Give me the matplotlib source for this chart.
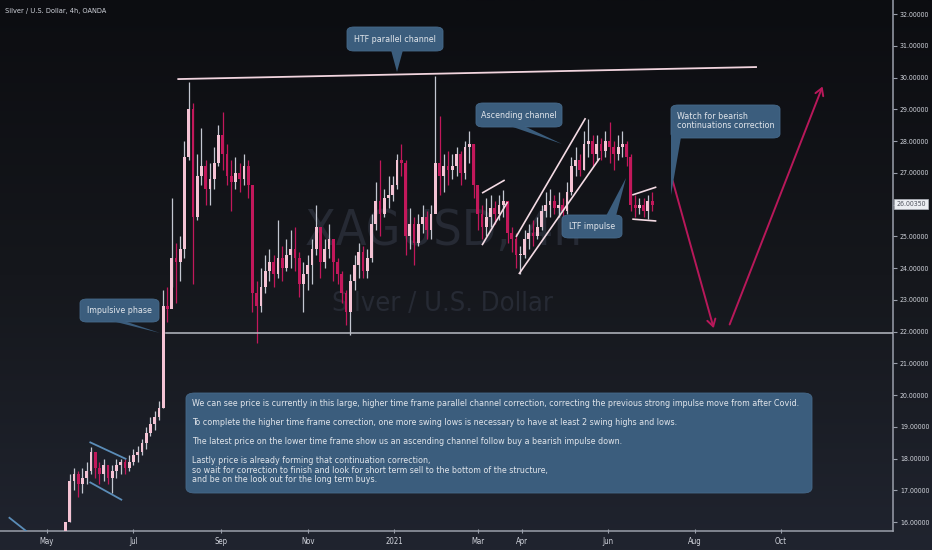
import matplotlib
matplotlib.use("Agg")
import matplotlib.pyplot as plt
import matplotlib.dates as mdates
import numpy as np
import pandas as pd
from matplotlib.colors import LinearSegmentedColormap
from matplotlib.patches import FancyBboxPatch, Polygon
from matplotlib.transforms import blended_transform_factory

plt.rcParams["font.family"] = ["DejaVu Sans"]
plt.rcParams["font.stretch"] = "condensed"

# XAGUSD candles, one every 3 calendar days
first_candle = "2020-05-14"
first_open = 15.4
closes = [
    16.0, 17.3, 17.5, 17.2, 17.4, 17.6, 18.2, 17.7, 17.5, 17.8,
    17.4, 17.6, 17.8, 17.9, 17.7, 17.9, 18.1, 18.2, 18.5, 18.8,
    19.1, 19.3, 19.6, 22.8, 22.7, 24.3, 24.2, 24.6, 27.5, 29.0,
    25.6, 26.9, 27.2, 26.5, 26.8, 27.3, 28.2, 27.6, 26.9, 26.7,
    27.0, 26.8, 27.2, 26.6, 23.2, 22.8, 23.4, 23.9, 24.2, 23.8,
    24.3, 24.0, 24.4, 24.6, 24.3, 23.5, 23.8, 24.1, 24.6, 25.3,
    24.2, 24.6, 24.9, 24.2, 23.8, 23.2, 22.6, 23.6, 24.1, 24.5,
    23.9, 24.3, 25.4, 26.1, 25.7, 26.2, 26.3, 26.6, 27.4, 27.3,
    25.0, 25.4, 24.8, 25.4, 25.6, 25.2, 25.7, 27.3, 26.9, 27.2,
    27.1, 27.2, 27.6, 27.0, 27.8, 27.9, 26.6, 25.7, 25.3, 25.6,
    25.9, 25.7, 26.0, 26.1, 25.1, 24.9, 24.4, 24.4, 24.9, 25.1,
    25.0, 25.3, 25.8, 26.0, 26.1, 25.9, 26.0, 25.8, 26.4, 27.2,
    27.4, 27.1, 27.9, 28.0, 27.6, 27.9, 27.7, 28.0, 27.8, 27.6,
    27.8, 27.9, 27.5, 26.0, 25.9, 26.0, 25.8, 26.1, 26.0,
]
highs = [
    16.0, 17.5, 17.7, 17.6, 17.7, 17.9, 18.35, 18.1, 17.9, 18.0,
    17.8, 17.8, 18.0, 18.0, 18.0, 18.1, 18.3, 18.4, 18.6, 19.0,
    19.3, 19.5, 19.8, 23.3, 23.4, 26.2, 24.8, 25.0, 28.0, 29.85,
    29.2, 27.6, 28.4, 27.4, 27.3, 27.8, 28.5, 28.9, 27.9, 27.4,
    27.5, 27.3, 27.6, 27.4, 26.6, 23.6, 24.0, 24.4, 24.6, 24.4,
    25.5, 24.7, 24.9, 25.2, 25.3, 24.5, 24.2, 24.4, 24.9, 26.0,
    25.3, 24.9, 25.4, 24.8, 24.3, 23.9, 23.3, 23.8, 24.4, 24.8,
    24.7, 24.6, 25.7, 26.7, 27.4, 26.5, 26.9, 26.9, 27.6, 27.9,
    27.4, 25.9, 25.6, 25.7, 26.0, 25.8, 26.0, 30.05, 28.8, 27.6,
    27.7, 27.6, 27.8, 27.7, 28.0, 28.3, 27.9, 26.5, 26.0, 26.2,
    26.3, 26.1, 26.3, 26.45, 26.1, 25.3, 25.1, 24.7, 25.2, 25.4,
    25.5, 25.6, 26.0, 26.4, 26.5, 26.3, 26.4, 26.2, 26.7, 27.5,
    27.8, 27.6, 28.3, 28.7, 28.2, 28.2, 28.1, 28.3, 28.6, 28.0,
    28.2, 28.3, 28.0, 27.6, 26.3, 26.2, 26.2, 26.3, 26.4,
]
lows = [
    15.3, 16.0, 17.0, 16.8, 16.9, 17.2, 17.5, 17.4, 17.2, 17.3,
    17.2, 16.9, 17.4, 17.5, 17.5, 17.6, 17.8, 17.9, 18.1, 18.3,
    18.7, 18.9, 19.2, 19.6, 22.3, 23.4, 22.9, 23.6, 24.3, 27.4,
    23.5, 25.5, 26.6, 26.0, 26.0, 26.5, 27.2, 27.1, 26.6, 25.8,
    26.5, 26.4, 26.6, 26.2, 22.6, 21.65, 22.6, 23.2, 23.6, 23.4,
    23.7, 23.6, 23.9, 24.0, 23.9, 23.1, 22.6, 23.3, 23.5, 24.4,
    23.7, 24.0, 24.3, 23.6, 23.5, 22.9, 22.2, 21.9, 23.3, 23.7,
    23.7, 23.7, 24.2, 25.2, 25.0, 25.6, 25.9, 26.1, 26.5, 26.9,
    24.4, 24.6, 24.1, 24.7, 25.1, 24.9, 24.9, 25.8, 26.3, 26.4,
    26.6, 26.8, 26.9, 26.6, 26.8, 27.3, 26.2, 25.2, 24.9, 25.0,
    25.3, 25.4, 25.5, 25.6, 24.8, 24.5, 24.0, 23.8, 24.3, 24.6,
    24.7, 24.9, 25.2, 25.6, 25.6, 25.7, 25.6, 25.6, 25.7, 26.3,
    26.9, 26.9, 27.1, 27.5, 27.2, 27.4, 27.4, 27.5, 27.3, 27.1,
    27.4, 27.5, 27.2, 25.8, 25.6, 25.7, 25.6, 25.55, 25.8,
]
last_price = 26.0035

price_ticks = list(range(16, 33))
month_ticks = ["2020-05-01", "2020-07-01", "2020-09-01", "2020-11-01", "2021-01-01",
               "2021-03-01", "2021-04-01", "2021-06-01", "2021-08-01", "2021-10-01"]
month_labels = ["May", "Jul", "Sep", "Nov", "2021", "Mar", "Apr", "Jun", "Aug", "Oct"]

# drawn tools: (start date, start price, end date, end price)
htf_line = ("2020-08-01", 29.95, "2021-09-14", 30.33)
support_level = ("2020-07-24", 21.95)
flag_lines = [("2020-05-31", 18.52, "2020-06-26", 17.98),
              ("2020-05-31", 17.26, "2020-06-23", 16.69),
              ("2020-04-04", 16.15, "2020-04-21", 15.55)]
white_lines = [("2021-03-04", 26.36, "2021-03-20", 26.77),
               ("2021-03-04", 24.72, "2021-03-22", 26.08),
               ("2021-03-28", 24.98, "2021-05-16", 28.72),
               ("2021-03-30", 23.81, "2021-05-26", 27.46),
               ("2021-06-18", 26.30, "2021-07-05", 26.55),
               ("2021-06-18", 25.54, "2021-07-05", 25.48)]
arrows = [("2021-07-16", 26.83, "2021-08-15", 22.02),
          ("2021-08-25", 22.14, "2021-10-31", 29.80)]

W, H = 932, 550
AX_W, AX_H = 893, 531
TXT = 6.4


def px(x, y):
    # screen pixel -> axes fraction
    return x / AX_W, (AX_H - y) / AX_H


fig = plt.figure(figsize=(W / 100, H / 100), dpi=100)
bg = fig.add_axes([0, 0, 1, 1], zorder=-5)
grad = np.linspace(0, 1, 256).reshape(-1, 1)
cmap = LinearSegmentedColormap.from_list("tv", ["#0c0d11", "#15171c", "#20242f"])
bg.imshow(grad, aspect="auto", cmap=cmap, extent=[0, 1, 0, 1], origin="upper")
bg.axis("off")

ax = fig.add_axes([0, 1 - AX_H / H, AX_W / W, AX_H / H])
ax.set_facecolor("none")

dates = pd.date_range(first_candle, periods=len(closes), freq="3D")
opens = [first_open] + closes[:-1]
up_body, down_body, up_wick = "#f4c3d4", "#c2185b", "#c3c7d1"
for d, o, h, l, c in zip(dates, opens, highs, lows, closes):
    up = c >= o
    ax.vlines(d, l, h, color=up_wick if up else down_body, linewidth=0.9, zorder=3)
    ax.bar(d, max(abs(c - o), 0.03), bottom=min(o, c), width=2.0,
           color=up_body if up else down_body, linewidth=0, zorder=4)

ax.set_xlim(pd.Timestamp("2020-03-28 20:00"), pd.Timestamp("2021-12-19"))
ax.set_ylim(15.717, 32.441)

# watermark
ax.text(0.497, 0.565, "XAGUSD, 4h", transform=ax.transAxes, ha="center", va="center",
        fontsize=36, color="#262a34", zorder=1)
ax.text(0.496, 0.427, "Silver / U.S. Dollar", transform=ax.transAxes, ha="center",
        va="center", fontsize=19.5, color="#262a34", zorder=1)


def seg(line, color, lw):
    d0, p0, d1, p1 = line
    ax.plot([pd.Timestamp(d0), pd.Timestamp(d1)], [p0, p1], color=color, lw=lw,
            solid_capstyle="butt", zorder=5)


seg(htf_line, "#f1d4de", 1.3)
ax.plot([pd.Timestamp(support_level[0]), pd.Timestamp("2022-01-01")],
        [support_level[1]] * 2, color="#b8bbc4", lw=1.1, zorder=5)
for line in flag_lines:
    seg(line, "#5b8db8", 1.3)
for line in white_lines:
    seg(line, "#f4dbe4", 1.2)
for d0, p0, d1, p1 in arrows:
    ax.annotate("", xy=(mdates.date2num(pd.Timestamp(d1)), p1),
                xytext=(mdates.date2num(pd.Timestamp(d0)), p0),
                arrowprops=dict(arrowstyle="->,head_length=0.5,head_width=0.3",
                                color="#b8185a", lw=1.4), zorder=6)

box_color = "#3b5d7d"
text_color = "#e1e5eb"


def callout(text, x0, y0, x1, y1, tail, ha="center", tx=None, ty=None):
    ax0, ay1 = px(x0, y0)
    ax1, ay0 = px(x1, y1)
    box = FancyBboxPatch((ax0, ay0), ax1 - ax0, ay1 - ay0,
                         boxstyle="round,pad=0,rounding_size=0.008",
                         transform=ax.transAxes, facecolor=box_color,
                         edgecolor="#46698a", linewidth=0.6, zorder=8)
    ax.add_patch(box)
    if tail:
        ax.add_patch(Polygon([px(*p) for p in tail], closed=True, transform=ax.transAxes,
                             facecolor=box_color, edgecolor="none", zorder=8))
    if tx is None:
        tx, ty = (x0 + x1) / 2, (y0 + y1) / 2
    fx, fy = px(tx, ty)
    ax.text(fx, fy, text, transform=ax.transAxes, ha=ha, va="center", fontsize=TXT,
            color=text_color, zorder=9, linespacing=1.05)


callout("HTF parallel channel", 347, 27, 443, 51, [(391, 50), (403, 50), (397, 72)])
callout("Impulsive phase", 80, 299, 159, 322, [(112, 321), (124, 321), (160, 333)])
callout("Ascending channel", 476, 103, 562, 127, [(510, 126), (524, 126), (562, 144)])
callout("LTF impulse", 562, 215, 622, 238, [(606, 216), (616, 216), (626, 178)])
callout("Watch for bearish\ncontinuations correction", 671, 105, 780, 138,
        [(671, 135), (681, 137), (671, 195)], ha="left", tx=677, ty=121)

note = ("We can see price is currently in this large, higher time frame parallel channel "
        "correction, correcting the previous strong impulse move from after Covid.\n\n"
        "To complete the higher time frame correction, one more swing lows is necessary "
        "to have at least 2 swing highs and lows.\n\n"
        "The latest price on the lower time frame show us an ascending channel follow buy "
        "a bearish impulse down.\n\n"
        "Lastly price is already forming that continuation correction,\n"
        "so wait for correction to finish and look for short term sell to the bottom of "
        "the structure,\n"
        "and be on the look out for the long term buys.")
bx0, by1 = px(186, 393)
bx1, by0 = px(812, 493)
ax.add_patch(FancyBboxPatch((bx0, by0), bx1 - bx0, by1 - by0,
                            boxstyle="round,pad=0,rounding_size=0.01",
                            transform=ax.transAxes, facecolor=box_color,
                            edgecolor="#46698a", linewidth=0.6, zorder=8))
nx, ny = px(192, 399)
ax.text(nx, ny, note, transform=ax.transAxes, ha="left", va="top", fontsize=TXT,
        color=text_color, linespacing=1.08, zorder=9)

# axes styling
for side in ("top", "left"):
    ax.spines[side].set_visible(False)
for side in ("bottom", "right"):
    ax.spines[side].set_color("#9a9fab")
    ax.spines[side].set_linewidth(1.1)
ax.yaxis.tick_right()
ax.set_yticks(price_ticks)
# the last-price tag covers the 26 label
ax.set_yticklabels(["" if p == 26 else f"{p:.5f}" for p in price_ticks])
ax.set_xticks([pd.Timestamp(m) for m in month_ticks])
ax.set_xticklabels(month_labels)
ax.tick_params(axis="y", colors="#9a9fab", labelcolor="#d1d4dc", labelsize=5.0,
               length=3, pad=2)
ax.tick_params(axis="x", colors="#9a9fab", labelcolor="#d1d4dc", labelsize=5.6,
               length=3, direction="inout", pad=3)

tr = blended_transform_factory(ax.transAxes, ax.transData)
ax.text(1.004, last_price, f"{last_price:.5f}", transform=tr, ha="left", va="center",
        fontsize=5.0, color="#50535e", zorder=10, clip_on=False,
        bbox=dict(boxstyle="square,pad=0.3", facecolor="#eceef2", edgecolor="#b2b5be",
                  linewidth=0.5))

fig.text(5 / W, 1 - 11 / H, "Silver / U.S. Dollar, 4h, OANDA", ha="left", va="center",
         fontsize=5.3, color="#d1d4dc")

fig.savefig("out.png", dpi=100)
